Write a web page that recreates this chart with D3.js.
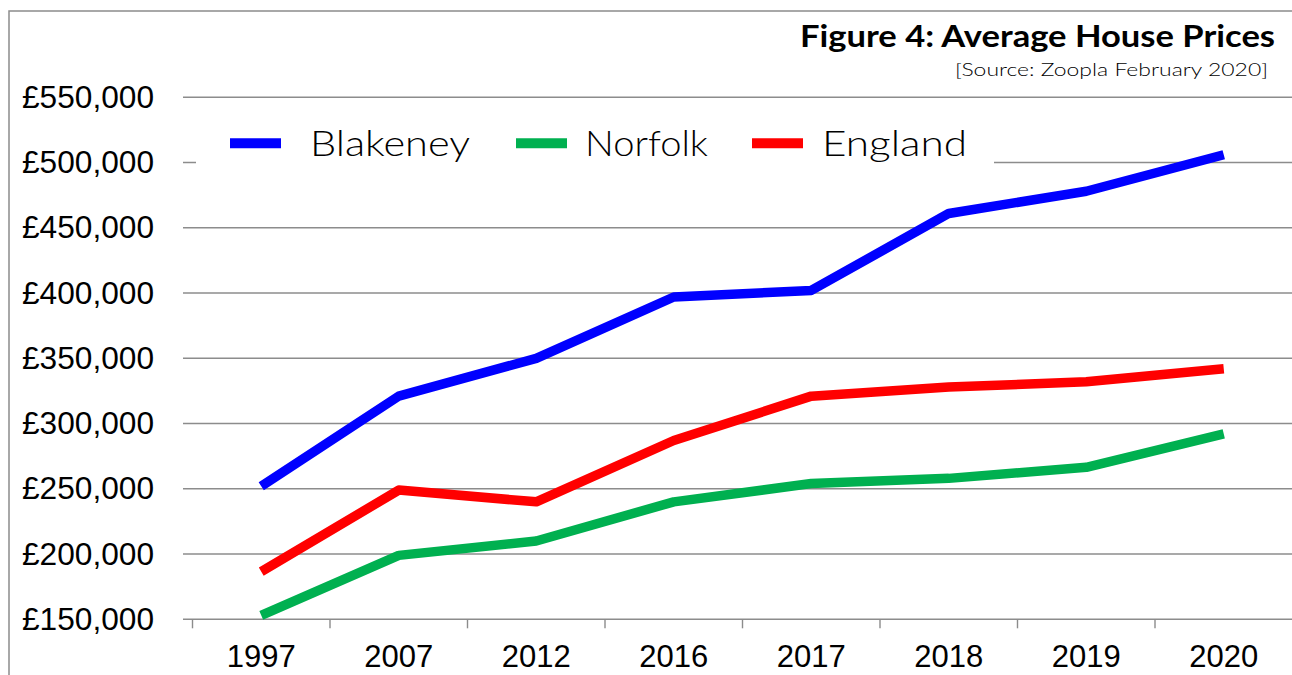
<!DOCTYPE html>
<html>
<head>
<meta charset="utf-8">
<script src="https://cdn.jsdelivr.net/npm/d3@7"></script>
<style>
  html, body { margin: 0; padding: 0; background: #fff; }
  svg { display: block; }
</style>
</head>
<body>
<svg id="chartSvg" width="1292" height="675"></svg>
<script>
const years = ["1997", "2007", "2012", "2016", "2017", "2018", "2019", "2020"];
const blakeney = [252000, 321000, 350000, 397000, 402000, 461000, 478000, 506000];
const norfolk = [153000, 199000, 210000, 240000, 254000, 258000, 266500, 292000];
const england = [186500, 249000, 240000, 287000, 321000, 328000, 332000, 342000];
const yTicks = [150000, 200000, 250000, 300000, 350000, 400000, 450000, 500000, 550000];

const seriesNames = ["Blakeney", "Norfolk", "England"];
const seriesColors = ["#0000ff", "#00b050", "#ff0000"];
const seriesValues = [blakeney, norfolk, england];

const svg = d3.select("#chartSvg");
const gridColor = "#8c8c8c";
const gothic = "'Lato', 'Open Sans', 'DejaVu Sans', sans-serif";

const x = d3.scaleBand().domain(years).range([192.5, 1292.5]);
const y = d3.scaleLinear().domain([150000, 550000]).range([619.3, 97.3]);

// outer border of the chart area
svg
  .append("rect")
  .attr("x", 9)
  .attr("y", 11)
  .attr("width", 1320)
  .attr("height", 700)
  .attr("fill", "none")
  .attr("stroke", gridColor)
  .attr("stroke-width", 1.5);

// horizontal gridlines + y labels
yTicks.forEach((v) => {
  svg
    .append("line")
    .attr("x1", 183)
    .attr("x2", 1292)
    .attr("y1", y(v))
    .attr("y2", y(v))
    .attr("stroke", gridColor)
    .attr("stroke-width", 1.4);

  svg
    .append("text")
    .attr("x", 154)
    .attr("y", y(v) + 10.5)
    .attr("text-anchor", "end")
    .attr("font-family", "'Liberation Sans', Arial, sans-serif")
    .attr("font-size", "31px")
    .attr("textLength", 132)
    .attr("lengthAdjust", "spacingAndGlyphs")
    .attr("fill", "#000")
    .text("£" + d3.format(",")(v));
});

// x tick marks at band edges and year labels
years.forEach((yr) => {
  svg
    .append("line")
    .attr("x1", x(yr))
    .attr("x2", x(yr))
    .attr("y1", y(150000))
    .attr("y2", y(150000) + 9)
    .attr("stroke", gridColor)
    .attr("stroke-width", 1.4);

  svg
    .append("text")
    .attr("x", x(yr) + x.bandwidth() / 2)
    .attr("y", 667)
    .attr("text-anchor", "middle")
    .attr("font-family", "'Liberation Sans', Arial, sans-serif")
    .attr("font-size", "31px")
    .attr("fill", "#000")
    .text(yr);
});

// title
svg
  .append("text")
  .attr("x", 800)
  .attr("y", 47)
  .attr("font-family", gothic)
  .attr("font-weight", "bold")
  .attr("font-size", "30px")
  .attr("textLength", 475)
  .attr("lengthAdjust", "spacingAndGlyphs")
  .attr("fill", "#000")
  .text("Figure 4: Average House Prices");

svg
  .append("text")
  .attr("x", 955)
  .attr("y", 76)
  .attr("font-family", gothic)
  .attr("font-weight", 300)
  .attr("font-size", "18px")
  .attr("textLength", 313)
  .attr("lengthAdjust", "spacingAndGlyphs")
  .attr("fill", "#000")
  .text("[Source: Zoopla February 2020]");

// legend with white backing box
svg
  .append("rect")
  .attr("x", 196)
  .attr("y", 112)
  .attr("width", 798)
  .attr("height", 64)
  .attr("fill", "#fff");

const legendX = [230, 516, 752];
const legendTextX = [310, 585, 822];
const legendTextW = [160, 123, 145];

seriesNames.forEach((name, i) => {
  svg
    .append("line")
    .attr("x1", legendX[i])
    .attr("x2", legendX[i] + 51)
    .attr("y1", 143.3)
    .attr("y2", 143.3)
    .attr("stroke", seriesColors[i])
    .attr("stroke-width", 10);

  svg
    .append("text")
    .attr("x", legendTextX[i])
    .attr("y", 156)
    .attr("font-family", gothic)
    .attr("font-weight", 300)
    .attr("font-size", "36px")
    .attr("textLength", legendTextW[i])
    .attr("lengthAdjust", "spacingAndGlyphs")
    .attr("fill", "#000")
    .text(name);
});

// series lines
const lineGenerator = d3
  .line()
  .x((d, i) => x(years[i]) + x.bandwidth() / 2)
  .y((d) => y(d));

seriesValues.forEach((vals, i) => {
  svg
    .append("path")
    .attr("d", lineGenerator(vals))
    .attr("fill", "none")
    .attr("stroke", seriesColors[i])
    .attr("stroke-width", 9.5)
    .attr("stroke-linejoin", "round")
    .attr("stroke-linecap", "butt");
});
</script>
</body>
</html>
